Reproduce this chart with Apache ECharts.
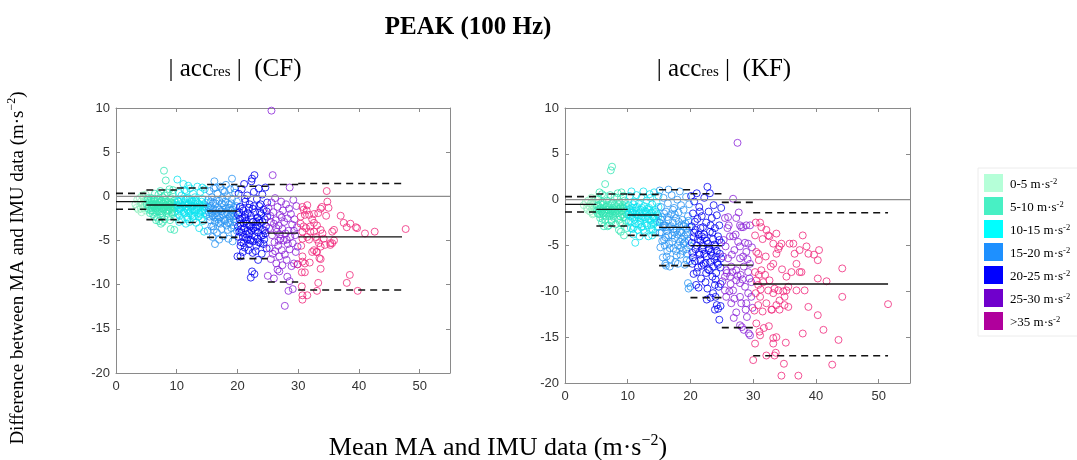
<!DOCTYPE html>
<html>
<head>
<meta charset="utf-8">
<script src="https://cdn.jsdelivr.net/npm/echarts@6/dist/echarts.min.js"></script>
<style>
html,body{margin:0;padding:0;background:#fff;}
#chart{width:1077px;height:460px;}
</style>
</head>
<body>
<div id="chart"></div>
<script>
// ---- categories ----
const groupNames = ['0-5', '5-10', '10-15', '15-20', '20-25', '25-30', '>35'];
const xTicks = [0, 10, 20, 30, 40, 50];
const yTicks = [-20, -15, -10, -5, 0, 5, 10];

// ---- bias / limits of agreement per bin (CF) ----
const binStart = [0, 5, 10, 15, 20, 25, 30];
const binEndCF = [5, 10, 15, 20, 25, 30, 47.1];
const meanCF  = [-0.6, -0.98, -1.04, -1.66, -2.97, -4.17, -4.6];
const upperCF = [0.34, 0.72, 0.95, 1.34, 1.15, 1.34, 1.45];
const lowerCF = [-1.47, -2.64, -2.97, -4.65, -7.05, -9.7, -10.6];

// ---- bias / limits of agreement per bin (KF) ----
const binEndKF = [5, 10, 15, 20, 25, 30, 51.5];
const meanKF  = [-0.51, -1.05, -1.67, -3.02, -5.02, -7.13, -9.2];
const upperKF = [0.33, 0.62, 0.58, 1.09, 0.65, -0.29, -1.42];
const lowerKF = [-1.35, -2.87, -3.89, -7.2, -10.69, -13.96, -17.02];

// ---- CF scatter (mean, difference) ----
const cf0 = [[3.2,-0.9],[3.5,-0.4],[3.7,-1.5],[3.9,-0.2],[4.0,-1.1],[4.1,-0.6],[4.2,-1.8],[4.3,0.1],[4.4,-0.8],[4.5,-1.3],[4.6,-0.3],[4.7,-1.0],[4.8,-0.5],[4.9,-1.6],[4.9,0.2],[3.4,-1.3],[4.5,-0.1],[4.1,-1.4]];
const cf1 = [[5.2,-0.4],[5.4,-1.1],[5.5,-0.7],[5.7,-1.6],[5.8,-0.2],[5.9,-1.3],[6.0,-0.9],[6.1,-2.0],[6.2,-0.5],[6.3,-1.2],[6.4,0.3],[6.5,-1.8],[6.6,-0.8],[6.7,-1.4],[6.8,-2.4],[6.9,-0.3],[7.0,-1.0],[7.1,-2.8],[7.2,-1.7],[7.3,0.6],[7.4,-3.1],[7.4,-0.6],[7.5,-1.3],[7.6,-2.1],[7.7,-0.1],[7.8,-1.5],[7.9,2.9],[7.9,-0.9],[8.0,-2.6],[8.1,-1.1],[8.2,1.8],[8.2,-0.4],[8.3,-1.9],[8.4,-1.2],[8.5,0.4],[8.6,-2.3],[8.6,-0.7],[8.7,-1.6],[8.8,-1.0],[8.9,-2.7],[9.0,-3.7],[9.0,-0.2],[9.1,-1.4],[9.2,-0.8],[9.3,-2.0],[9.4,0.7],[9.5,-1.2],[9.6,-3.8],[9.6,-0.5],[9.7,-1.8],[9.8,-1.0],[9.9,-2.4],[5.6,-1.9],[6.6,-2.7],[7.0,0.2],[8.0,0.1],[9.3,0.3],[6.3,-2.3],[7.7,-2.9],[8.8,0.8],[5.3,-1.4],[6.1,-1.0],[7.2,-0.8],[8.4,-1.7],[9.1,-1.1],[6.8,-1.2],[7.9,-1.4],[5.9,-0.6],[8.9,-0.6],[7.4,-1.9],
  [5.1,-0.9],[5.3,-0.2],[5.6,-0.5],[5.8,-1.0],[6.0,-1.6],[6.2,-1.1],[6.4,-0.6],[6.5,-1.3],[6.7,-0.9],[6.9,-1.7],[7.1,-0.7],[7.3,-1.1],[7.5,-0.5],[7.6,-1.7],[7.8,-0.8],[8.0,-1.2],[8.1,-0.6],[8.3,-1.0],[8.5,-1.5],[8.7,-0.9],[8.9,-1.3],[9.1,-0.7],[9.3,-1.5],[9.5,-0.9],[9.7,-1.3],[9.9,-0.7],[6.3,-0.3],[7.1,-1.4],[8.6,-1.2],[9.2,-1.8]];
const cf2 = [[10.1,1.9],[10.2,-0.5],[10.3,-1.4],[10.4,0.4],[10.5,-2.2],[10.6,-0.9],[10.7,-1.7],[10.8,0.1],[10.9,-2.7],[11.0,-1.1],[11.1,1.4],[11.2,-0.3],[11.3,-1.9],[11.4,-0.7],[11.5,-3.1],[11.5,-1.3],[11.6,0.6],[11.7,-2.4],[11.8,-0.2],[11.9,-1.6],[12.0,-0.8],[12.1,-2.9],[12.2,0.9],[12.3,-1.2],[12.4,-2.1],[12.5,-0.4],[12.6,-1.5],[12.7,0.3],[12.8,-2.6],[12.9,-1.0],[13.0,-0.1],[13.1,-1.8],[13.2,-3.0],[13.3,-0.6],[13.4,1.1],[13.5,-1.4],[13.6,-2.3],[13.7,-3.6],[13.8,-0.9],[13.9,0.5],[14.0,-1.7],[14.1,-2.5],[14.2,-0.3],[14.3,-2.8],[14.4,-1.1],[14.5,-4.0],[14.6,0.8],[14.7,-1.9],[14.8,-0.7],[14.9,-1.3],[10.4,-2.9],[11.9,1.2],[12.9,-2.2],[13.9,-2.0],[14.2,1.0],[11.3,0.7],[10.6,-1.3],[11.7,-1.1],[12.4,-0.6],[13.3,-1.5],[14.6,-1.6],[12.0,-1.9],
  [10.1,-1.0],[10.3,-0.6],[10.5,-1.5],[10.7,-0.4],[10.9,-1.2],[11.1,-1.8],[11.3,-0.9],[11.5,-0.3],[11.7,-1.5],[11.9,-0.9],[12.1,-0.3],[12.3,-1.7],[12.5,-1.1],[12.7,-0.6],[12.9,-1.6],[13.1,-0.5],[13.3,-1.2],[13.5,-0.8],[13.7,-1.9],[13.9,-1.1],[14.1,-0.6],[14.3,-1.6],[14.5,-0.9],[14.7,-1.2],[14.9,-2.1],[10.2,-2.0],[12.6,-2.3],[11.8,-2.6]];
const cf3 = [[15.1,-3.9],[15.2,-0.4],[15.3,-1.8],[15.4,0.6],[15.5,-2.7],[15.6,-1.1],[15.7,-3.4],[15.8,-0.1],[15.9,-2.2],[16.0,-1.5],[16.1,0.9],[16.2,1.7],[16.3,-5.4],[16.3,-2.9],[16.4,-0.8],[16.5,-1.9],[16.6,-4.1],[16.7,0.3],[16.8,-1.3],[16.9,-3.0],[17.0,-0.5],[17.1,-2.4],[17.2,1.1],[17.3,-1.7],[17.4,-3.7],[17.5,-0.2],[17.6,-2.1],[17.7,-4.5],[17.8,-1.0],[17.9,0.5],[18.0,-2.8],[18.1,-1.4],[18.2,-3.3],[18.3,0.0],[18.4,-2.0],[18.5,-4.8],[18.6,-0.9],[18.7,-2.5],[18.8,0.8],[18.9,-1.6],[19.0,-3.6],[19.1,2.0],[19.1,-0.3],[19.2,-5.1],[19.3,-2.3],[19.4,-1.2],[19.5,-4.2],[19.6,0.4],[19.7,-2.9],[19.8,-1.8],[19.9,-0.6],[19.9,-3.9],[15.9,-4.6],[17.0,-4.9],[18.1,1.3],[16.4,1.0],[19.5,0.9],[17.6,0.7],[15.5,-1.5],[16.7,-2.2],[17.9,-1.9],[18.8,-3.0],[19.4,-2.6],[16.0,-3.4],
  [15.2,-1.2],[15.4,-2.3],[15.6,-0.6],[15.8,-1.9],[16.0,-0.7],[16.2,-2.4],[16.4,-1.6],[16.6,-0.4],[16.8,-2.6],[17.0,-1.5],[17.2,-3.1],[17.4,-0.8],[17.6,-1.5],[17.8,-2.7],[18.0,-0.6],[18.2,-1.8],[18.4,-3.8],[18.6,-1.3],[18.8,-2.2],[19.0,-0.8],[19.2,-1.5],[19.4,-3.3],[19.6,-2.2],[19.8,-1.1],[16.1,-3.8],[17.3,-2.8],[18.5,-3.0],[19.0,-2.1]];
const cf4 = [[20.0,-6.8],[20.1,-2.1],[20.2,0.3],[20.3,-4.0],[20.4,-1.2],[20.5,-6.8],[20.5,-3.1],[20.6,-5.2],[20.7,0.8],[20.8,-2.5],[20.9,-4.6],[21.0,-1.6],[21.1,1.4],[21.1,-3.6],[21.2,-5.8],[21.3,-0.6],[21.4,-2.8],[21.5,-4.3],[21.6,0.1],[21.7,-1.9],[21.8,-6.1],[21.9,-3.3],[22.0,-0.9],[22.1,-5.0],[22.2,-9.2],[22.2,-2.2],[22.3,1.7],[22.3,-3.9],[22.4,2.0],[22.4,-8.5],[22.5,-1.4],[22.5,-6.4],[22.6,-2.9],[22.7,0.5],[22.8,2.4],[22.8,-8.8],[22.8,-4.5],[22.9,-1.8],[23.0,-3.5],[23.1,-5.6],[23.2,-0.3],[23.3,-2.4],[23.4,-7.2],[23.4,-4.1],[23.5,0.9],[23.6,-1.1],[23.7,-3.0],[23.8,-5.3],[23.9,-2.0],[24.0,-6.5],[24.1,0.2],[24.2,-3.8],[24.3,-1.5],[24.4,-4.9],[24.5,-2.6],[24.6,1.0],[24.7,-3.4],[24.8,-5.9],[24.9,-0.7],[24.9,-2.3],[20.9,-6.3],[21.6,-4.9],[23.0,-6.2],[24.2,-4.4],[21.0,-3.0],[22.0,-4.2],[20.3,-1.8],[21.2,-2.4],[22.6,-3.6],[23.6,-2.7],[24.5,-3.9],[21.9,-5.4],[23.3,-4.8],[20.6,-3.7],
  [20.1,-3.4],[20.2,-4.6],[20.4,-2.6],[20.7,-4.1],[20.8,-1.4],[21.0,-5.3],[21.3,-2.1],[21.4,-4.7],[21.5,-3.1],[21.7,-3.9],[21.9,-1.3],[22.1,-3.4],[22.2,-4.9],[22.4,-2.6],[22.6,-5.1],[22.7,-1.1],[22.9,-3.9],[23.1,-2.9],[23.3,-3.3],[23.5,-5.2],[23.7,-1.8],[23.9,-4.5],[24.1,-2.9],[24.3,-5.4],[24.6,-4.2],[24.8,-1.7],[20.5,-5.6],[21.2,-0.3],[23.8,-0.9]];
const cf5 = [[25.6,9.7],[25.8,2.4],[28.6,1.0],[25.1,-1.3],[25.2,-3.6],[25.3,-5.9],[25.4,-2.2],[25.5,-7.1],[25.6,-0.7],[25.7,-4.4],[25.8,-6.5],[25.9,-1.8],[26.0,-9.3],[26.0,-3.1],[26.1,-5.2],[26.2,-0.2],[26.3,-2.7],[26.4,-7.6],[26.5,-4.0],[26.6,-8.3],[26.6,-1.2],[26.7,-5.6],[26.8,-3.3],[26.9,-8.5],[26.9,-6.8],[27.0,-2.1],[27.1,-4.8],[27.2,-0.6],[27.3,-6.1],[27.4,-7.8],[27.4,-3.7],[27.5,-1.6],[27.6,-5.0],[27.7,-2.9],[27.8,-12.4],[27.8,-6.6],[27.9,-4.2],[28.0,-0.9],[28.1,-7.2],[28.2,-9.1],[28.2,-2.5],[28.3,-5.4],[28.4,-10.7],[28.4,-3.9],[28.5,-1.4],[28.6,-6.0],[28.7,-4.6],[28.8,-2.0],[28.9,-7.9],[29.0,-3.2],[29.1,-10.5],[29.1,-5.3],[29.2,-0.4],[29.3,-7.6],[29.4,-2.6],[29.5,-4.4],[29.6,-6.3],[29.7,-1.1],[29.8,-3.5],[29.9,-7.7],[29.9,-5.7],[25.0,-9.0],[26.2,-6.2],[27.0,-4.3],[28.6,-9.6],[25.5,-2.9],[26.4,-3.6],[27.3,-2.4],[28.1,-4.9],[29.3,-3.9],[26.8,-5.0]];
const cf6 = [[30.7,-1.2],[30.9,-1.5],[31.5,-1.0],[31.1,-2.1],[30.4,-2.3],[31.8,-2.1],[32.6,-2.0],[33.3,-1.9],[33.7,-1.4],[33.9,-1.2],[34.7,0.6],[34.8,-0.6],[35.0,-1.3],[34.6,-2.2],[32.6,-3.0],[32.0,-3.4],[33.1,-3.3],[32.0,-4.0],[32.6,-4.0],[33.7,-3.8],[34.0,-4.2],[31.5,-4.6],[32.9,-4.6],[30.9,-3.4],[30.4,-3.1],[30.7,-4.0],[30.7,-4.8],[31.8,-4.9],[33.1,-4.9],[34.2,-4.8],[33.4,-5.3],[33.7,-5.7],[34.4,-5.5],[35.3,-5.3],[35.6,-4.0],[35.9,-3.8],[37.0,-2.2],[37.5,-3.0],[38.0,-3.5],[38.6,-3.1],[39.5,-3.5],[39.7,-3.6],[41.0,-4.2],[42.6,-4.0],[47.7,-3.7],[35.9,-5.0],[35.6,-5.3],[35.3,-5.5],[32.6,-6.1],[32.3,-6.3],[33.0,-6.3],[33.1,-6.3],[30.7,-6.8],[30.7,-7.4],[31.1,-7.6],[31.9,-7.5],[33.5,-7.0],[33.7,-7.1],[30.6,-8.6],[31.1,-8.6],[30.6,-10.2],[30.7,-11.2],[30.7,-11.7],[31.5,-11.2],[33.1,-10.7],[33.3,-9.8],[33.7,-8.2],[38.5,-8.9],[38.0,-9.8],[39.8,-10.7],[29.9,-7.7],[31.3,-3.6],[32.3,-2.6],[30.5,-5.6],[31.4,-1.6]];

// ---- KF scatter (mean, difference) ----
const kf0 = [[3.0,-0.6],[3.3,-0.3],[3.5,-0.9],[3.7,-0.1],[3.9,-0.7],[4.0,-1.3],[4.1,-0.4],[4.2,0.2],[4.3,-1.0],[4.4,-0.6],[4.5,-1.5],[4.6,-0.2],[4.7,-0.9],[4.8,-1.2],[4.9,-0.5],[4.9,0.1],[3.6,-1.1],[4.4,-1.6]];
const kf1 = [[5.1,-0.7],[5.2,-1.5],[5.3,0.0],[5.4,-1.1],[5.5,0.8],[5.6,-2.0],[5.7,-0.5],[5.8,-1.3],[5.9,-2.5],[6.0,-0.2],[6.1,-1.0],[6.2,-1.7],[6.3,0.4],[6.4,1.7],[6.4,-2.2],[6.5,-0.8],[6.6,-1.4],[6.7,-0.1],[6.8,-2.9],[6.9,-1.1],[7.0,-0.6],[7.1,-1.8],[7.2,0.5],[7.3,3.2],[7.3,-1.2],[7.4,-2.4],[7.5,3.6],[7.5,-0.4],[7.6,-1.6],[7.7,-0.9],[7.8,-2.0],[7.9,0.3],[8.0,-1.3],[8.1,-2.7],[8.2,-0.7],[8.3,-1.5],[8.4,0.7],[8.5,-1.0],[8.6,-2.2],[8.7,-0.3],[8.8,-1.8],[8.9,-3.5],[9.0,0.8],[9.0,-1.2],[9.1,-2.6],[9.2,-0.6],[9.3,-1.9],[9.4,-3.9],[9.5,-0.1],[9.6,-1.4],[9.7,-2.3],[9.8,-0.8],[9.9,-3.1],[9.9,-1.6],[5.9,0.6],[7.0,-2.8],[8.3,0.2],[6.2,-2.9],[9.3,0.4],[8.6,-3.3],[5.5,-1.0],[6.6,-1.1],[7.2,-1.5],[7.9,-1.1],[8.8,-0.9],[6.0,-1.5],[9.4,-1.0],[7.6,-1.3],
  [5.1,-1.2],[5.3,-0.6],[5.5,-1.6],[5.7,-0.9],[5.9,-1.2],[6.1,-0.5],[6.3,-1.3],[6.5,-1.8],[6.7,-0.6],[6.9,-1.5],[7.1,-0.9],[7.3,-0.5],[7.5,-1.1],[7.7,-1.8],[7.9,-0.6],[8.1,-1.5],[8.3,-1.1],[8.5,-0.5],[8.7,-1.3],[8.9,-0.8],[9.1,-1.6],[9.3,-0.9],[9.5,-1.9],[9.7,-0.5],[9.9,-1.1],[6.0,-2.1],[7.4,-2.2],[8.8,-2.5]];
const kf2 = [[10.1,-0.6],[10.2,-2.3],[10.3,0.4],[10.4,-1.4],[10.5,-3.1],[10.6,0.9],[10.7,-0.9],[10.8,-2.0],[10.9,-3.8],[11.0,-1.2],[11.1,-0.2],[11.2,-4.7],[11.2,-2.6],[11.3,-1.6],[11.4,0.5],[11.5,-0.8],[11.6,-3.3],[11.7,-1.9],[11.8,-0.4],[11.9,-4.0],[12.0,-2.4],[12.1,-1.1],[12.2,0.2],[12.3,-2.9],[12.4,-1.5],[12.5,0.9],[12.6,-0.7],[12.7,-3.6],[12.8,-2.1],[12.9,-1.3],[13.0,-0.1],[13.1,-2.8],[13.2,-1.8],[13.3,-4.0],[13.4,-0.9],[13.5,0.6],[13.6,-2.3],[13.7,-1.4],[13.8,-3.2],[13.9,-0.5],[14.0,-1.9],[14.1,-2.7],[14.2,0.8],[14.3,-1.1],[14.4,-3.6],[14.5,-2.2],[14.6,-0.3],[14.7,-1.6],[14.8,-3.0],[14.9,-0.8],[14.9,0.4],[11.0,-3.0],[12.5,-3.3],[13.9,-3.9],[10.5,-1.8],[13.6,0.2],[11.4,-1.2],[12.2,-1.8],[13.1,-1.0],[14.2,-2.0],[10.8,-1.4],
  [10.1,-1.6],[10.3,-1.0],[10.5,-2.4],[10.7,-1.4],[10.9,-0.5],[11.1,-2.2],[11.3,-0.9],[11.5,-1.7],[11.7,-2.7],[11.9,-1.4],[12.1,-2.0],[12.3,-0.9],[12.5,-1.9],[12.7,-1.2],[12.9,-2.6],[13.1,-1.5],[13.3,-2.1],[13.5,-1.1],[13.7,-2.8],[13.9,-1.4],[14.1,-1.9],[14.3,-2.5],[14.5,-1.3],[14.7,-2.4],[14.9,-1.8],[10.8,-3.2],[12.2,-3.0],[14.0,-3.3]];
const kf3 = [[15.1,1.0],[15.1,-2.5],[15.2,-5.2],[15.3,-0.8],[15.4,-3.6],[15.5,-1.9],[15.6,-6.3],[15.7,0.2],[15.8,-4.4],[15.9,-2.8],[16.0,-7.0],[16.1,-1.3],[16.1,-7.2],[16.2,-3.4],[16.3,-5.6],[16.4,-0.4],[16.5,1.1],[16.5,-2.2],[16.6,-4.8],[16.7,-3.0],[16.8,-6.5],[16.9,-1.6],[17.0,0.5],[17.1,-3.9],[17.2,-2.5],[17.3,-5.3],[17.4,-0.9],[17.5,-4.2],[17.6,-6.8],[17.7,-2.0],[17.8,-3.3],[17.9,0.0],[18.0,-5.0],[18.1,-1.4],[18.2,-2.9],[18.3,0.9],[18.3,-4.6],[18.4,-6.0],[18.5,-0.6],[18.6,-3.6],[18.7,-2.2],[18.8,-5.6],[18.9,-1.1],[19.0,-4.0],[19.1,-7.1],[19.2,-2.6],[19.3,0.3],[19.4,-3.2],[19.5,-5.9],[19.6,-9.1],[19.6,-1.8],[19.7,-9.7],[19.7,-4.5],[19.8,-0.5],[19.9,-3.0],[19.9,-6.7],[20.0,-9.5],[16.7,-7.3],[18.0,-7.0],[17.2,-1.1],[18.9,-4.8],[15.6,-3.0],[16.0,-4.1],[17.4,-3.6],[18.6,-2.7],[19.3,-3.8],[15.8,-1.5],
  [15.1,-3.6],[15.3,-2.2],[15.5,-4.5],[15.7,-2.8],[15.9,-5.0],[16.1,-3.0],[16.3,-1.9],[16.5,-3.9],[16.7,-5.3],[16.9,-2.9],[17.1,-4.6],[17.3,-3.2],[17.5,-1.6],[17.7,-5.6],[17.9,-3.8],[18.1,-2.4],[18.3,-3.5],[18.5,-5.2],[18.7,-4.3],[18.9,-2.9],[19.1,-4.6],[19.3,-5.4],[19.5,-3.6],[19.7,-2.3],[19.9,-5.0],[16.2,-6.2],[17.8,-6.1],[19.4,-6.6]];
const kf4 = [[20.1,0.4],[20.2,-2.9],[20.3,-5.8],[20.4,-1.5],[20.5,-8.1],[20.5,-4.1],[20.6,-0.2],[20.7,-6.7],[20.8,-3.3],[20.9,-9.3],[21.0,0.7],[21.0,-5.0],[21.1,-2.1],[21.2,-7.4],[21.3,-3.8],[21.4,-0.8],[21.5,-6.0],[21.6,-4.5],[21.7,-8.6],[21.8,-1.8],[21.9,-5.4],[22.0,-3.0],[22.1,-7.0],[22.2,0.2],[22.3,-4.2],[22.4,-9.0],[22.5,-2.5],[22.6,-10.9],[22.6,-6.2],[22.7,1.4],[22.8,-4.8],[22.9,-1.3],[23.0,-7.7],[23.1,0.7],[23.1,-3.5],[23.2,-10.7],[23.3,-5.7],[23.4,-2.0],[23.5,-8.4],[23.6,-10.2],[23.6,-4.3],[23.7,-0.6],[23.8,-6.5],[23.9,-12.0],[23.9,-3.1],[24.0,-10.6],[24.0,-5.1],[24.1,-8.0],[24.2,-11.5],[24.2,-1.7],[24.3,-6.9],[24.4,-11.9],[24.4,-4.0],[24.5,-9.5],[24.6,-13.1],[24.6,-2.8],[24.7,-5.9],[24.8,-11.6],[24.8,-7.4],[24.9,-0.9],[24.9,-4.7],[21.3,-9.6],[22.5,-8.0],[20.3,-7.0],[23.2,-6.8],[21.8,-4.0],[22.9,-5.5],[20.7,-2.4],[21.6,-6.6],[23.5,-3.6],[24.1,-6.2],[22.2,-5.9],
  [20.2,-4.7],[20.4,-6.3],[20.6,-3.6],[20.8,-5.4],[21.0,-7.9],[21.2,-4.3],[21.4,-5.8],[21.6,-3.1],[21.8,-7.2],[22.0,-5.0],[22.2,-3.8],[22.4,-6.9],[22.6,-4.5],[22.8,-7.6],[23.0,-5.3],[23.2,-2.8],[23.4,-6.1],[23.6,-7.3],[23.8,-4.9],[24.0,-8.7],[24.2,-5.6],[24.4,-7.1],[24.6,-4.4],[24.8,-9.2],[24.9,-6.4],[21.5,-1.3],[22.7,-9.7],[23.9,-9.3]];
const kf5 = [[27.5,6.2],[26.8,0.1],[27.7,-1.4],[27.3,-2.0],[25.5,-2.0],[26.0,-1.9],[26.3,-4.0],[26.8,-4.0],[27.2,-3.8],[27.9,-2.8],[28.1,-3.0],[28.4,-3.0],[28.9,-2.8],[29.5,-2.8],[28.7,-4.7],[29.2,-4.8],[27.9,-5.1],[28.9,-5.7],[28.4,-6.2],[29.5,-7.0],[29.2,-7.9],[27.3,-7.7],[26.5,-7.3],[25.7,-7.7],[25.5,-8.4],[26.3,-8.4],[27.3,-8.8],[27.9,-9.1],[28.7,-9.5],[29.2,-10.2],[29.7,-10.6],[27.9,-10.6],[26.8,-9.9],[28.1,-11.3],[28.9,-11.3],[26.0,-6.4],[27.9,-6.4],[29.7,-9.0],[25.2,-6.2],[25.6,-5.1],[27.0,-5.5],[28.5,-7.3],[29.3,-14.6],[29.5,-14.8],[27.9,-13.7],[28.2,-13.9],[28.8,-12.0],[27.3,-12.3],[26.5,-11.3],[25.7,-10.6],[25.5,-9.9],[25.3,-4.4],[26.2,-10.0],[27.0,-10.8],[29.0,-12.8],[29.8,-5.2],[25.9,-3.1],[26.6,-6.0],[28.0,-8.2],[29.4,-8.6],[25.1,-8.9],[26.9,-12.9],[28.5,-14.2],[29.9,-11.8],[27.6,-4.6],[26.1,-2.8],[25.8,-8.0],[26.7,-7.9],[27.5,-8.3],[28.3,-8.7],[29.1,-6.5],[26.4,-9.2]];
const kf6 = [[30.4,-2.5],[31.1,-2.5],[31.3,-3.0],[30.3,-3.9],[30.5,-5.7],[30.8,-5.9],[30.9,-6.6],[31.3,-7.7],[30.3,-7.9],[30.5,-8.8],[30.8,-9.3],[31.2,-9.8],[30.4,-10.2],[31.1,-10.6],[31.6,-9.0],[31.9,-8.2],[32.1,-3.3],[32.4,-3.9],[32.6,-4.0],[33.2,-4.8],[33.7,-3.7],[34.0,-5.4],[34.2,-5.1],[34.5,-4.8],[33.7,-5.9],[33.2,-7.0],[32.6,-8.8],[32.4,-9.9],[32.1,-11.3],[32.9,-12.0],[33.2,-10.2],[33.4,-9.7],[34.0,-9.9],[34.2,-11.0],[33.7,-11.5],[34.8,-10.0],[35.0,-10.6],[35.3,-9.9],[35.0,-11.5],[35.6,-9.5],[35.6,-11.7],[34.2,-12.0],[35.8,-4.8],[36.4,-4.8],[36.6,-5.9],[37.4,-5.5],[37.9,-3.9],[38.5,-5.1],[38.8,-5.9],[36.9,-7.0],[37.4,-7.9],[37.7,-7.9],[38.2,-9.9],[38.8,-11.7],[36.9,-9.9],[35.3,-8.4],[36.1,-7.9],[39.7,-6.0],[40.3,-8.6],[40.3,-6.6],[40.5,-5.5],[41.7,-8.9],[40.3,-12.6],[41.2,-14.2],[44.2,-7.5],[44.2,-10.6],[43.6,-15.3],[42.6,-18.0],[37.2,-19.2],[34.5,-19.2],[34.9,-17.9],[33.6,-16.7],[33.2,-15.1],[33.7,-15.0],[31.1,-14.8],[30.3,-15.7],[30.0,-17.5],[32.1,-17.0],[33.4,-17.0],[51.5,-11.4],[35.2,-15.6],[33.0,-12.0],[37.9,-14.6],[33.2,-15.7],[30.2,-12.1],[30.8,-11.5],[31.5,-12.2],[32.5,-13.8],[31.0,-14.4],[30.5,-13.5],[32.0,-6.2],[31.5,-4.3],[30.9,-8.2],[32.8,-7.3],[34.6,-7.6],[31.7,-14.0]];

// ---- colours ----
const markerColors = ['#94f0c2', '#35e6b4', '#0ee4f0', '#2b95f2', '#0000f0', '#8a22d8', '#f0287c'];
const legendColors = ['#b5ffd8', '#48f0c4', '#00ffff', '#1e90ff', '#0000ff', '#7000cc', '#b0009c'];

const cfData = [cf0, cf1, cf2, cf3, cf4, cf5, cf6];
const kfData = [kf0, kf1, kf2, kf3, kf4, kf5, kf6];

const chart = echarts.init(document.getElementById('chart'), null, {renderer: 'canvas'});
const axisGray = '#8a8a8a';
const serif = 'Liberation Serif';

function xAx(gi, pos) {
  return {
    gridIndex: gi, type: 'value', position: pos, min: 0, max: 55, interval: 10,
    axisLine: {show: true, onZero: false, lineStyle: {color: axisGray, width: 1}},
    axisTick: {show: true, inside: true, length: 4, lineStyle: {color: axisGray}},
    axisLabel: {show: pos === 'bottom', color: '#333', fontSize: 13, fontFamily: 'Liberation Sans', margin: 7,
      formatter: v => (xTicks.indexOf(v) >= 0 ? String(v) : '')},
    splitLine: {show: false}
  };
}
function yAx(gi, pos) {
  return {
    gridIndex: gi, type: 'value', position: pos, min: -20, max: 10, interval: 5,
    axisLine: {show: true, onZero: false, lineStyle: {color: axisGray, width: 1}},
    axisTick: {show: true, inside: true, length: 4, lineStyle: {color: axisGray}},
    axisLabel: {show: pos === 'left', color: '#333', fontSize: 13, fontFamily: 'Liberation Sans', margin: 6,
      formatter: v => (yTicks.indexOf(v) >= 0 ? String(v) : '')},
    splitLine: {show: false}
  };
}

const series = [];
function addChart(ci, data, ends, mean, upper, lower) {
  const xi = ci * 2, yi = ci * 2;
  data.forEach((d, g) => {
    series.push({
      name: groupNames[g], type: 'scatter', xAxisIndex: xi, yAxisIndex: yi,
      data: d, symbol: 'circle', symbolSize: 7, z: 2,
      itemStyle: {color: 'rgba(255,255,255,0)', borderColor: markerColors[g], borderWidth: 1},
      emphasis: {disabled: true}, silent: true
    });
  });
  // zero line
  series.push({
    type: 'line', xAxisIndex: xi, yAxisIndex: yi, data: [[0, 0], [55, 0]],
    symbol: 'none', silent: true, z: 3,
    lineStyle: {color: '#8c8c8c', width: 1.3}
  });
  for (let b = 0; b < binStart.length; b++) {
    series.push({
      type: 'line', xAxisIndex: xi, yAxisIndex: yi, data: [[binStart[b], mean[b]], [ends[b], mean[b]]],
      symbol: 'none', silent: true, z: 4, lineStyle: {color: '#111', width: 1.3}
    });
    series.push({
      type: 'line', xAxisIndex: xi, yAxisIndex: yi, data: [[binStart[b], upper[b]], [ends[b], upper[b]]],
      symbol: 'none', silent: true, z: 4, lineStyle: {color: '#111', width: 1.6, type: [7, 5]}
    });
    series.push({
      type: 'line', xAxisIndex: xi, yAxisIndex: yi, data: [[binStart[b], lower[b]], [ends[b], lower[b]]],
      symbol: 'none', silent: true, z: 4, lineStyle: {color: '#111', width: 1.6, type: [7, 5]}
    });
  }
}
addChart(0, cfData, binEndCF, meanCF, upperCF, lowerCF);
addChart(1, kfData, binEndKF, meanKF, upperKF, lowerKF);

const subRich = {
  m: {fontFamily: serif, fontSize: 25, fontWeight: 'normal', color: '#000', lineHeight: 30, verticalAlign: 'bottom'},
  s: {fontFamily: serif, fontSize: 15, fontWeight: 'normal', color: '#000', lineHeight: 30, verticalAlign: 'bottom', padding: [0, 0, 2, 0]}
};

const option = {
  animation: false,
  backgroundColor: '#fff',
  title: [
    {text: 'PEAK (100 Hz)', left: 463, top: 10, textAlign: 'center',
     textStyle: {fontFamily: serif, fontWeight: 'bold', fontSize: 25, color: '#000'}},
    {text: '{m|| acc}{s|res}{m| |  (CF)}', left: 230, top: 47, textAlign: 'center',
     textStyle: {fontWeight: 'normal', rich: subRich}},
    {text: '{m|| acc}{s|res}{m| |  (KF)}', left: 719, top: 47, textAlign: 'center',
     textStyle: {fontWeight: 'normal', rich: subRich}}
  ],
  grid: [
    {left: 116, top: 108, width: 334, height: 265},
    {left: 565, top: 108, width: 345, height: 275}
  ],
  xAxis: [xAx(0, 'bottom'), xAx(0, 'top'), xAx(1, 'bottom'), xAx(1, 'top')],
  yAxis: [yAx(0, 'left'), yAx(0, 'right'), yAx(1, 'left'), yAx(1, 'right')],
  legend: {
    orient: 'vertical', left: 978, top: 168, padding: [6, 8, 6, 6],
    borderColor: '#ececec', borderWidth: 1,
    itemWidth: 19, itemHeight: 18, itemGap: 5, selectedMode: false,
    data: groupNames.map((n, i) => ({name: n, icon: 'rect',
      itemStyle: {color: legendColors[i], opacity: 1, borderWidth: 0, borderColor: legendColors[i]}})),
    formatter: n => '{n|' + n + ' m·s}{s|-2}',
    textStyle: {color: '#000', padding: [0, 0, 0, 2], rich: {
      n: {fontFamily: serif, fontSize: 13, color: '#000', lineHeight: 16, verticalAlign: 'bottom'},
      s: {fontFamily: serif, fontSize: 8.5, color: '#000', lineHeight: 16, verticalAlign: 'top', padding: [2, 0, 0, 0]}}}
  },
  graphic: [
    {type: 'text', x: 17, y: 268, rotation: Math.PI / 2, silent: true,
     style: {text: '{n|Difference between MA and IMU data (m·s}{s|−2}{n|)}', align: 'center', verticalAlign: 'middle',
       rich: {n: {fontFamily: serif, fontSize: 19, fill: '#000', lineHeight: 22, verticalAlign: 'bottom'},
              s: {fontFamily: serif, fontSize: 12, fill: '#000', lineHeight: 22, verticalAlign: 'top'}}}},
    {type: 'text', x: 498, y: 447, silent: true,
     style: {text: '{n|Mean MA and IMU data (m·s}{s|−2}{n|)}', align: 'center', verticalAlign: 'middle',
       rich: {n: {fontFamily: serif, fontSize: 26, fill: '#000', lineHeight: 29, verticalAlign: 'bottom'},
              s: {fontFamily: serif, fontSize: 16, fill: '#000', lineHeight: 29, verticalAlign: 'top'}}}}
  ],
  series: series
};
chart.setOption(option);
</script>
</body>
</html>
